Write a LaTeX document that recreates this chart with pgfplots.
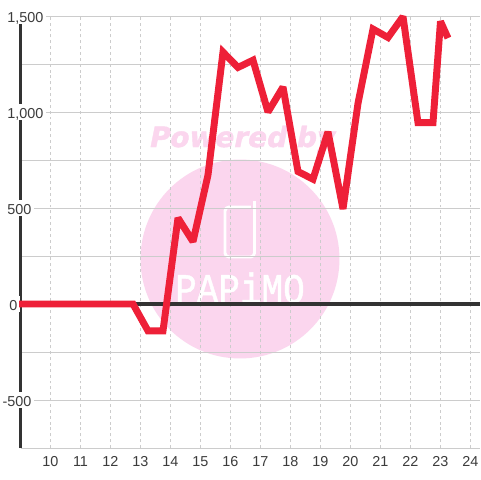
\documentclass[border=0pt]{standalone}
\usepackage{pgfplots}
\pgfplotsset{compat=1.18}
\usepackage{fontspec}
\setmainfont{Liberation Sans}
\newfontfamily\wmfont[FakeSlant=0.2,FakeBold=1.5]{DejaVu Sans Bold}
\newfontfamily\logofont[FakeBold=1.2]{Liberation Mono}
\definecolor{wm}{RGB}{251,214,238}
\definecolor{redline}{RGB}{238,32,56}
\definecolor{dark}{RGB}{51,51,51}
\definecolor{gridc}{RGB}{204,204,204}
\definecolor{labc}{RGB}{60,60,60}
\begin{document}
\begin{tikzpicture}
\useasboundingbox (0pt,0pt) rectangle (360pt,360pt);
\begin{scope}[x=0.75pt,y=-0.75pt,shift={(0pt,360pt)}]
\fill[white] (0,0) rectangle (480,480);
\fill[wm] (240,259) circle [radius=74.6pt];
\node[anchor=base west,inner sep=0pt,text=wm] at (148,147) {\fontsize{21}{21}\selectfont\wmfont Powered by};
\draw[white,line width=2.2pt,line join=round,rounded corners=3pt] (254.5,201) -- (254.5,257) -- (225,257) -- (225,207) -- (251,207);
\node[anchor=base,inner sep=0pt,text=white,yscale=1.17] at (240,303) {\fontsize{27}{27}\selectfont\logofont PAPiMO};
\end{scope}
\begin{axis}[
  at={(15.375pt,24pt)},anchor=south west,
  scale only axis,
  width=344.625pt,height=324pt,
  xmin=9,xmax=24.3167,ymin=-750,ymax=1500,
  clip=false,
  axis x line*=bottom,axis y line*=left,
  separate axis lines,
  x axis line style={draw=gridc,line width=0.75pt,-},
  y axis line style={draw=dark,line width=2.6pt,-},
  xtick={10,...,24},
  xticklabels={10,11,12,13,14,15,16,17,18,19,20,21,22,23,24},
  ytick={-500,0,500,1000,1500},
  yticklabels={\llap{-}500,\hspace*{1.5pt}0,500,{1,000},{1,500}},
  minor ytick={-250,250,750,1250},
  major tick length=0pt,minor tick length=0pt,
  tick style={draw=none},
  xmajorgrids,ymajorgrids,yminorgrids,
  x grid style={draw=gridc,line width=0.75pt,dash pattern=on 2.2pt off 2.2pt},
  y grid style={draw=gridc,line width=0.75pt},
  minor y grid style={draw=gridc,line width=0.75pt},
  tick label style={font=\fontsize{10.8}{10.8}\selectfont,text=labc},
  xticklabel style={anchor=base,yshift=-13.9pt,inner sep=0pt},
  yticklabel style={anchor=base west,xshift=-12.1pt,yshift=-4.5pt,fill=white,inner xsep=2pt,inner ysep=0pt,text height=10.5pt,text depth=1.5pt},
]
\addplot[dark,line width=2.3pt,forget plot] coordinates {(9,0)(24.3167,0)};
\addplot[redline,line width=5.2pt,line join=miter,miter limit=2.5,line cap=butt] coordinates {
(8.95,0)(12.75,0)(13.25,-140)(13.75,-140)(14.25,448)(14.75,325)(15.25,672)(15.75,1312)
(16.25,1232)(16.75,1270)(17.25,1000)(17.75,1130)(18.25,690)(18.75,650)(19.25,897)(19.75,495)
(20.25,1045)(20.75,1432)(21.25,1388)(21.75,1497)(22.25,945)(22.75,945)(23,1472)(23.25,1385)};
\end{axis}
\end{tikzpicture}
\end{document}
